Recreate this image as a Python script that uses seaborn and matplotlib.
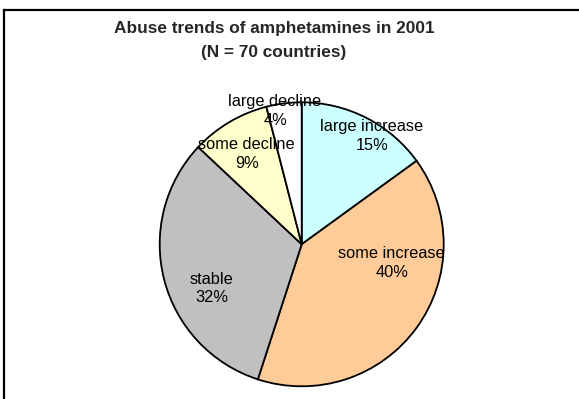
import matplotlib
matplotlib.use("Agg")
import matplotlib.pyplot as plt
from matplotlib.lines import Line2D
import seaborn as sns

categories = ["large increase", "some increase", "stable", "some decline", "large decline"]
percents = [15, 40, 32, 9, 4]
colors = ["#CCFFFF", "#FFCC99", "#C0C0C0", "#FFFFCC", "#FFFFFF"]
# label positions in units of radius (x, y)
label_pos = [(0.495, 0.761), (0.634, -0.131), (-0.634, -0.311), (-0.387, 0.635), (-0.188, 0.939)]

sns.set_style("white")
plt.rcParams["font.family"] = ["Liberation Sans", "DejaVu Sans"]

W, H = 579, 399
fig = plt.figure(figsize=(W / 100, H / 100), dpi=100)
fig.patch.set_facecolor("white")

cx, cy, r = 301.7, 244.3, 142
ax = fig.add_axes([(cx - r) / W, (H - cy - r) / H, 2 * r / W, 2 * r / H])
wedges, _ = ax.pie(percents, colors=colors, startangle=90, counterclock=False,
                   radius=1, wedgeprops=dict(edgecolor="black", linewidth=1.3))
for w in wedges:
    w.set_clip_on(False)
ax.set_xlim(-1, 1)
ax.set_ylim(-1, 1)
ax.set_aspect("equal")
ax.axis("off")

for cat, p, (lx, ly) in zip(categories, percents, label_pos):
    ax.text(lx, ly, f"{cat}\n{p}%", ha="center", va="center", fontsize=11.8,
            linespacing=1.3, color="black")

fig.text(274 / W, 1 - 29 / H, "Abuse trends of amphetamines in 2001", ha="center",
         va="center", fontsize=12.4, fontweight="bold")
fig.text(274 / W, 1 - 52 / H, "(N = 70 countries)", ha="center",
         va="center", fontsize=12.4, fontweight="bold")

x0, y0 = 4 / W, 1 - 10 / H
fig.add_artist(Line2D([x0, 1.05], [y0, y0], transform=fig.transFigure,
                      color="black", linewidth=1.6, solid_capstyle="projecting"))
fig.add_artist(Line2D([x0, x0], [y0, -0.05], transform=fig.transFigure,
                      color="black", linewidth=1.6, solid_capstyle="projecting"))

fig.savefig("out.png", dpi=100)
